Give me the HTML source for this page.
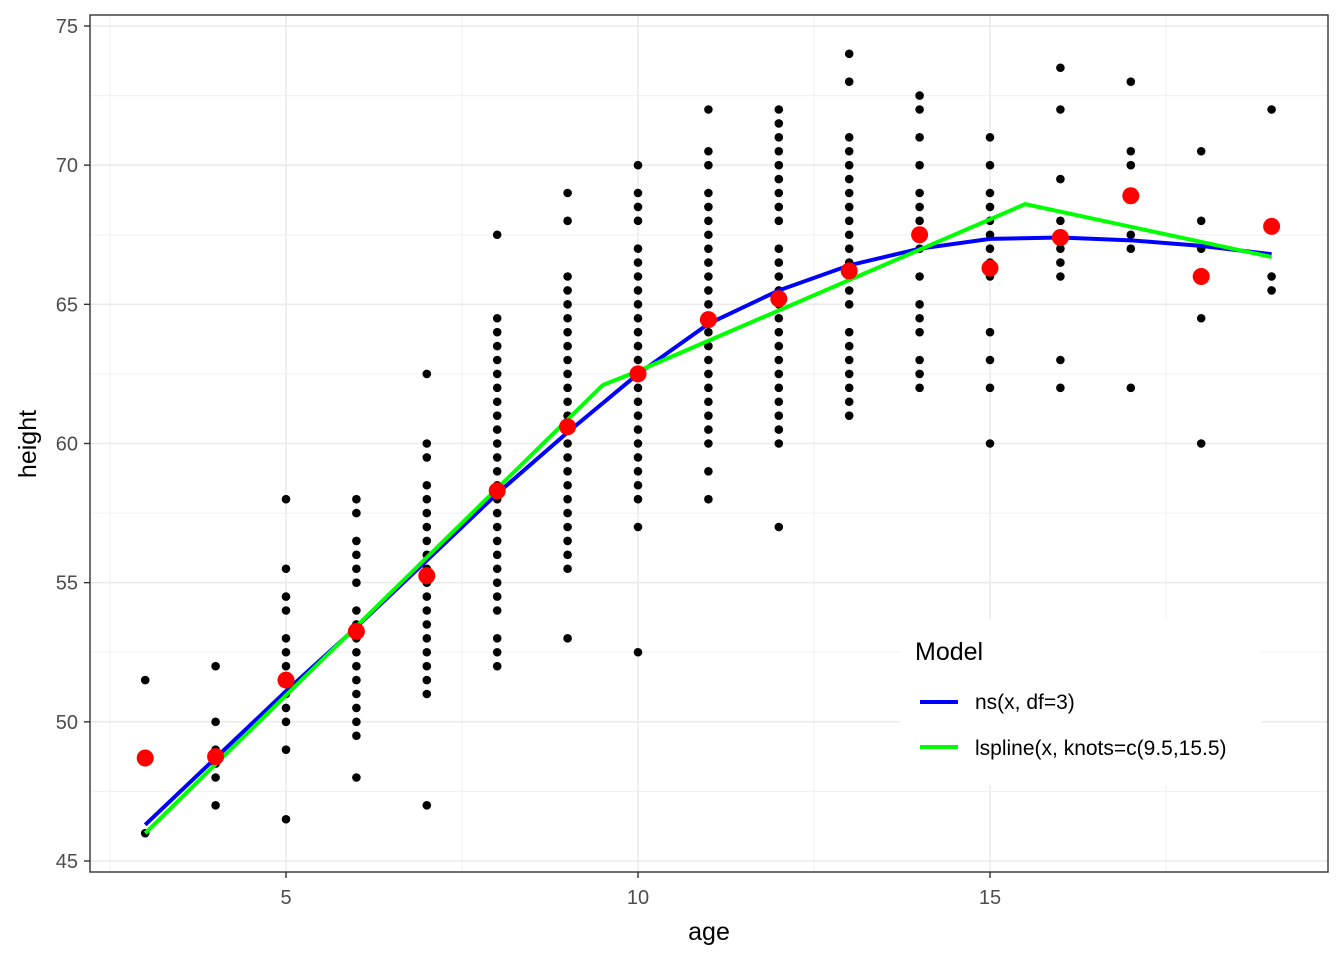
<!DOCTYPE html>
<html><head><meta charset="utf-8"><style>body{margin:0;background:#fff}svg{display:block}text{font-family:"Liberation Sans",sans-serif}</style></head>
<body>
<svg id="s" width="1344" height="960" xmlns="http://www.w3.org/2000/svg">
<rect width="1344" height="960" fill="#fff"/>
<g id="grid"></g>
<g id="pts"></g>
<g id="lines"></g>
<g id="means"></g>
<rect x="90" y="15" width="1238" height="857" fill="none" stroke="#333" stroke-width="1.4"/>
<g id="ticks" font-size="20" fill="#4d4d4d"></g>
<text x="709" y="940" font-size="25" text-anchor="middle" fill="#000">age</text>
<text transform="translate(36,444) rotate(-90)" font-size="25" text-anchor="middle" fill="#000">height</text>
<rect x="900" y="620" width="362" height="165" fill="#fff"/>
<text x="915" y="660" font-size="25" fill="#000">Model</text>
<line x1="920" y1="702" x2="958" y2="702" stroke="#0000ff" stroke-width="4"/>
<line x1="920" y1="747" x2="958" y2="747" stroke="#00ff00" stroke-width="4"/>
<text x="975" y="709" font-size="21" fill="#000">ns(x, df=3)</text>
<text x="975" y="755" font-size="21" fill="#000">lspline(x, knots=c(9.5,15.5)</text>
</svg>
<script>
const NS="http://www.w3.org/2000/svg";
const X=a=>286+(a-5)*70.4, Y=v=>26+(75-v)*27.833;
function el(p,t,a){const e=document.createElementNS(NS,t);for(const k in a)e.setAttribute(k,a[k]);document.getElementById(p).appendChild(e);return e;}
for(let v=47.5;v<75;v+=5)el("grid","line",{x1:90,x2:1328,y1:Y(v),y2:Y(v),stroke:"#f0f0f0","stroke-width":1});
for(const a of [2.5,7.5,12.5,17.5])el("grid","line",{x1:X(a),x2:X(a),y1:15,y2:872,stroke:"#f0f0f0","stroke-width":1});
for(let v=45;v<=75;v+=5){el("grid","line",{x1:90,x2:1328,y1:Y(v),y2:Y(v),stroke:"#ebebeb","stroke-width":1.6});
 el("ticks","line",{x1:84,x2:90,y1:Y(v),y2:Y(v),stroke:"#333","stroke-width":1.4});
 const t=el("ticks","text",{x:78,y:Y(v)+7,"text-anchor":"end"});t.textContent=v;}
for(const a of [5,10,15]){el("grid","line",{x1:X(a),x2:X(a),y1:15,y2:872,stroke:"#ebebeb","stroke-width":1.6});
 el("ticks","line",{x1:X(a),x2:X(a),y1:872,y2:878,stroke:"#333","stroke-width":1.4});
 const t=el("ticks","text",{x:X(a),y:904,"text-anchor":"middle"});t.textContent=a;}
function rng(a,b){const r=[];for(let v=a;v<=b+1e-9;v+=0.5)r.push(v);return r;}
const D={3:[51.5,46],4:[52,50,49,48.5,48,47],5:[58,55.5,54.5,54,53,52.5,52,51.5,51,50.5,50,49,46.5],
6:[58,57.5,56.5,56,55.5,55,54,53.5,53,52.5,52,51.5,51,50.5,50,49.5,48],
7:[62.5,60,59.5,58.5,...rng(51,58),47],8:[67.5,...rng(54,64.5),53,52.5,52],9:[69,68,...rng(55.5,66),53],
10:[70,69,68.5,68,...rng(58,67),57,52.5],11:[72,70.5,70,...rng(60,69),59,58],12:[...rng(68,72),...rng(60,67),57],
13:[74,73,...rng(65,71),64,63.5,63,62.5,62,61.5,61],14:[72.5,72,71,70,69,68.5,68,67.5,67,66,65,64.5,64,63,62.5,62],
15:[71,70,69,68.5,68,67.5,67,66.5,66,64,63,62,60],16:[73.5,72,69.5,68,67.5,67,66.5,66,63,62],
17:[73,70.5,70,67.5,67,62],18:[70.5,68,67,64.5,60],19:[72,66,65.5]};
for(const a in D)for(const v of D[a])el("pts","circle",{cx:X(+a),cy:Y(v),r:4.3,fill:"#000"});
const blue=[46.3,48.7,51.1,53.4,55.8,58.2,60.4,62.5,64.3,65.5,66.4,67.0,67.35,67.4,67.3,67.1,66.8];
el("lines","polyline",{points:blue.map((v,i)=>X(i+3)+","+Y(v)).join(" "),fill:"none",stroke:"#0000ff","stroke-width":4});
const g=[[3,46],[9.5,62.1],[10,62.6],[15.5,68.6],[19,66.7]];
el("lines","polyline",{points:g.map(p=>X(p[0])+","+Y(p[1])).join(" "),fill:"none",stroke:"#00ff00","stroke-width":4});
const M=[48.7,48.75,51.5,53.25,55.25,58.3,60.6,62.5,64.45,65.2,66.2,67.5,66.3,67.4,68.9,66,67.8];
M.forEach((v,i)=>el("means","circle",{cx:X(i+3),cy:Y(v),r:8.5,fill:"#ff0000"}));
</script>
</body></html>
